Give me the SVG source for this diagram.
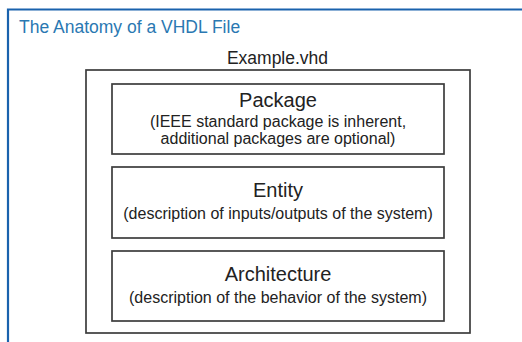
<svg xmlns="http://www.w3.org/2000/svg" width="522" height="342" viewBox="0 0 522 342">
<style>
  .frame{fill:none;stroke:#1a62ad;stroke-width:2.2}
  .box{fill:#fff;stroke:#3c3c3c;stroke-width:1.7}
  text{font-family:"Liberation Sans",Arial,sans-serif;fill:#222;text-anchor:middle}
  .title{fill:#2a78b2;font-size:17.5px;text-anchor:start}
  .file{font-size:17.5px}
  .head{font-size:20px}
  .sub{font-size:16px}
</style>
<rect width="522" height="342" fill="#fff"/>
<path class="frame" d="M8,343 V9.5 H523"/>
<text class="title" x="19" y="33">The Anatomy of a VHDL File</text>
<g id="file">
  <text class="file" x="277.5" y="64">Example.vhd</text>
  <rect class="box" x="86" y="70" width="384" height="263"/>
</g>
<g id="package">
  <rect class="box" x="112" y="84" width="332" height="70"/>
  <text class="head" x="278" y="107">Package</text>
  <text class="sub" x="278" y="127">(IEEE standard package is inherent,</text>
  <text class="sub" x="278" y="144">additional packages are optional)</text>
</g>
<g id="entity">
  <rect class="box" x="112" y="167" width="332" height="71"/>
  <text class="head" x="278" y="197">Entity</text>
  <text class="sub" x="278" y="219">(description of inputs/outputs of the system)</text>
</g>
<g id="architecture">
  <rect class="box" x="112" y="251" width="332" height="70"/>
  <text class="head" x="278" y="281">Architecture</text>
  <text class="sub" x="278" y="303">(description of the behavior of the system)</text>
</g>
<g id="connectors"></g>
</svg>
